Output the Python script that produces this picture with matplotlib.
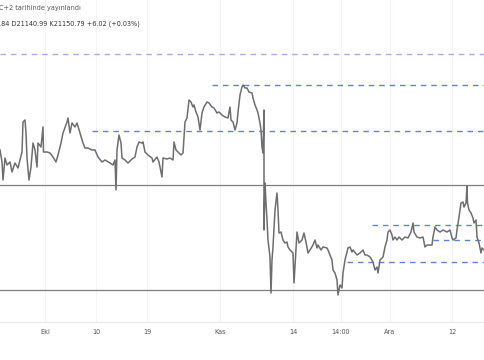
import matplotlib
matplotlib.use("Agg")
import matplotlib.pyplot as plt

# price path (x = bar position, price in index points)
bar = [0, 2, 3, 5, 7, 10, 12, 15, 18, 20, 22, 23, 25, 26, 27, 29, 31, 33, 35, 37,
       38, 41, 43, 43.5, 47, 50, 53, 56, 58, 61, 63, 67, 68, 70, 72, 75, 77, 80, 83, 85,
       88, 92, 95, 98, 102, 105, 110, 113, 115, 116, 117, 119, 121, 122, 125, 128, 132, 135, 137, 139,
       142, 143, 145, 148, 152, 153, 157, 159, 162, 163, 167, 170, 173, 174, 176, 178, 181, 183, 184, 185,
       187, 189, 191, 193, 194, 196, 198, 200, 202, 204, 207, 209, 212, 214, 217, 219, 222, 225, 228, 230,
       231, 233, 235, 237, 238, 240, 242, 243, 245, 247, 249, 252, 253, 255, 257, 258, 260, 261, 262, 263,
       264, 264, 265, 266, 267, 268, 270, 271, 272, 273, 275, 277, 278, 279, 281, 283, 285, 287, 288, 290,
       293, 294, 296, 297, 299, 302, 304, 306, 308, 310, 313, 315, 317, 318, 321, 323, 327, 328, 330, 332,
       333, 335, 337, 338, 340, 342, 343, 345, 347, 348, 350, 352, 353, 357, 360, 363, 365, 367, 370, 373,
       375, 377, 378, 380, 383, 385, 387, 388, 390, 392, 393, 395, 397, 399, 402, 405, 408, 411, 413, 414,
       417, 420, 423, 425, 427, 429, 432, 433, 435, 437, 440, 443, 447, 450, 452, 453, 456, 457, 459, 461,
       463, 464, 466, 467, 467.5, 469, 471, 473, 474, 476, 477, 479, 481, 482, 484, 485]
price = [22150, 22030, 21850, 22070, 22000, 22030, 21930, 22020, 21970, 22050, 22130, 22430, 22450, 22320, 22070, 21850, 21980, 22220, 22150, 21980,
         22220, 22180, 22380, 22130, 22130, 22120, 22080, 22030, 22100, 22220, 22320, 22430, 22470, 22320, 22420, 22380, 22420, 22320, 22220, 22170,
         22170, 22150, 22150, 22080, 22030, 22050, 22020, 22000, 22050, 21750, 22150, 22300, 22220, 22070, 22050, 22020, 22060, 22080, 22180, 22230,
         22220, 22230, 22130, 22100, 22070, 22030, 22080, 22030, 21880, 22070, 22060, 22070, 22050, 22230, 22150, 22130, 22100, 22120, 22280, 22430,
         22470, 22650, 22630, 22580, 22600, 22530, 22480, 22350, 22520, 22580, 22630, 22620, 22580, 22570, 22520, 22530, 22500, 22480, 22470, 22580,
         22450, 22430, 22350, 22420, 22530, 22700, 22780, 22800, 22770, 22770, 22730, 22720, 22670, 22600, 22550, 22520, 22420, 22350, 22180, 22120,
         22550, 21350, 21820, 21620, 21450, 21250, 21080, 20720, 21050, 21180, 21550, 21720, 21550, 21320, 21330, 21250, 21220, 21230, 21180, 21150,
         21120, 20820, 21150, 21330, 21220, 21250, 21320, 21230, 21120, 21150, 21200, 21250, 21170, 21200, 21150, 21180, 21170, 21150, 21100, 21050,
         20950, 20920, 20850, 20700, 20800, 20770, 20920, 21050, 21130, 21170, 21180, 21130, 21150, 21100, 21120, 21150, 21100, 21100, 21080, 21030,
         20950, 20980, 20920, 21050, 21080, 21180, 21250, 21330, 21350, 21300, 21250, 21280, 21250, 21280, 21250, 21280, 21270, 21330, 21420, 21330,
         21280, 21270, 21280, 21180, 21200, 21200, 21200, 21280, 21380, 21350, 21330, 21350, 21330, 21350, 21270, 21250, 21270, 21350, 21480, 21620,
         21630, 21580, 21620, 21790, 21620, 21550, 21520, 21470, 21420, 21450, 21280, 21220, 21120, 21170, 21150, 21160]

# drawn levels: (price, start bar)
dash_levels = [23110, 22800, 22340, 21400, 21250, 21030]
dash_starts = [0, 212, 92, 372, 433, 347]
solid_levels = [21800, 20750]

tick_pos = [45, 96, 147, 220, 293, 341, 390, 452]
tick_labels = ['Eki', '10', '19', 'Kas', '14', '14:00', 'Ara', '12']

header_1 = 'C+2 tarihinde yayınlandı'
header_2 = '.84 D21140.99 K21150.79 +6.02 (+0.03%)'

fig = plt.figure(figsize=(4.85, 3.6), dpi=100)
ax = fig.add_axes([0, 38 / 360, 1, 322 / 360])

ax.set_xlim(0, 485)
ax.set_ylim(20430, 23650)

for x in tick_pos:
    ax.axvline(x, color='#f0f3fa', lw=0.8, zorder=0)

for lvl in solid_levels:
    ax.axhline(lvl, color='#7f7f7f', lw=0.9, zorder=1)
for lvl, x0 in zip(dash_levels, dash_starts):
    ax.hlines(lvl, x0, 485, colors='#5f82d8' if x0 else '#9fb1e3',
              linestyles=(0, (4, 3.5)), lw=1.0, zorder=1)

ax.plot(bar, price, color='#6e6e6e', lw=1.1, zorder=2)

ax.set_xticks(tick_pos)
ax.set_xticklabels(tick_labels)
ax.tick_params(axis='x', length=0, pad=5, labelsize=4.7, colors='#555555')
ax.set_yticks([])
for side in ['top', 'left', 'right']:
    ax.spines[side].set_visible(False)
ax.spines['bottom'].set_color('#e6e8ee')
ax.spines['bottom'].set_linewidth(0.8)

fig.text(-0.003, 1 - 8 / 360, header_1, fontsize=4.7, color='#555555', va='center', ha='left')
fig.text(-0.003, 1 - 24 / 360, header_2, fontsize=4.7, color='#333333', va='center', ha='left')

fig.savefig('out.png', dpi=100)
